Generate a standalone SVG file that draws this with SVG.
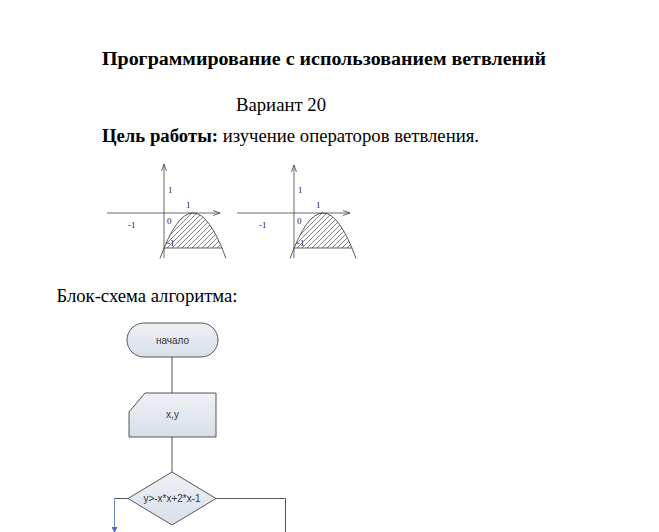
<svg xmlns="http://www.w3.org/2000/svg" width="659" height="532" viewBox="0 0 659 532">
<style>
.t{font-family:"Liberation Serif","Times New Roman",serif;font-size:18.7px;fill:#000}
.b{font-weight:bold}
.g{font-family:"Liberation Serif","Times New Roman",serif;font-size:9px;fill:#222}
.ax{stroke:#444;stroke-width:0.8;fill:none}
.cv{stroke:#333;stroke-width:0.8;fill:none}
.sh{fill:url(#fg);stroke:#555;stroke-width:1}
.ft{font-family:"Liberation Sans",Arial,sans-serif;font-size:10px;fill:#333;text-anchor:middle}
.cn{stroke:#555;stroke-width:1;fill:none}
</style>
<defs>
<linearGradient id="fg" x1="0" y1="0" x2="0" y2="1">
<stop offset="0" stop-color="#eef1f6"/>
<stop offset="1" stop-color="#d8dfe9"/>
</linearGradient>
<pattern id="hatch" patternUnits="userSpaceOnUse" width="5" height="5">
<path d="M-1,1 l2,-2 M0,5 l5,-5 M4,6 l2,-2" stroke="#333" stroke-width="0.6"/>
</pattern>
<marker id="arr" markerWidth="6" markerHeight="6" refX="5" refY="3" orient="auto" markerUnits="userSpaceOnUse">
<path d="M0,0 L6,3 L0,6 Z" fill="#4a74b8"/>
</marker>
</defs>

<text class="t b" x="102" y="65" textLength="444" lengthAdjust="spacingAndGlyphs">Программирование с использованием ветвлений</text>
<text class="t" x="236" y="111" textLength="90" lengthAdjust="spacingAndGlyphs">Вариант 20</text>
<text class="t" x="102" y="141.7" textLength="377" lengthAdjust="spacingAndGlyphs"><tspan class="b">Цель работы:</tspan> изучение операторов ветвления.</text>
<text class="t" x="56.5" y="301.5" textLength="181" lengthAdjust="spacingAndGlyphs">Блок-схема алгоритма:</text>

<g id="graph1">
<path d="M164,248 Q193,178 222,248 Z" fill="url(#hatch)" stroke="none"/>
<line class="cv" x1="164" y1="248" x2="222" y2="248"/>
<line class="ax" x1="107" y1="213" x2="220" y2="213"/>
<polyline class="ax" points="213,210.5 220,213 213,215.5"/>
<line class="ax" x1="164" y1="258" x2="164" y2="164"/>
<polyline class="ax" points="161.5,171 164,164 166.5,171"/>
<path class="cv" d="M160,258.5 Q193,167.5 226,258.5"/>
<text class="g" x="168" y="193">1</text>
<text class="g" x="186" y="208">1</text>
<text class="g" x="128" y="228">-1</text>
<text class="g" x="167" y="224">0</text>
<text class="g" x="167" y="246">-1</text>
</g>

<g id="graph2">
<path d="M294,248 Q323,178 352,248 Z" fill="url(#hatch)" stroke="none"/>
<line class="cv" x1="294" y1="248" x2="352" y2="248"/>
<line class="ax" x1="237" y1="213" x2="350" y2="213"/>
<polyline class="ax" points="343,210.5 350,213 343,215.5"/>
<line class="ax" x1="294" y1="258" x2="294" y2="165"/>
<polyline class="ax" points="291.5,172 294,165 296.5,172"/>
<path class="cv" d="M290,258.5 Q323,167.5 356,258.5"/>
<text class="g" x="298" y="193">1</text>
<text class="g" x="316" y="208">1</text>
<text class="g" x="259" y="228">-1</text>
<text class="g" x="297" y="224">0</text>
<text class="g" x="297" y="246">-1</text>
</g>

<g id="connectors">
<line class="cn" x1="172" y1="357" x2="172" y2="393"/>
<line class="cn" x1="172" y1="437" x2="172" y2="472"/>
<polyline class="cn" points="128,498.5 114.5,498.5"/>
<line x1="114.5" y1="498.5" x2="114.5" y2="532" stroke="#6a8cc0" stroke-width="1" marker-end="url(#arr)"/>
<polyline class="cn" points="216,498.5 285.5,498.5 285.5,532" stroke="#333"/>
</g>

<g id="start">
<rect class="sh" x="127" y="323" width="91" height="34" rx="17" ry="17"/>
<text class="ft" x="172.5" y="343.5">начало</text>
</g>

<g id="input">
<path class="sh" d="M145,393 L216,393 L216,437 L129,437 L129,412 Z"/>
<text class="ft" x="172.5" y="417.5">x,y</text>
</g>

<g id="cond">
<path class="sh" d="M172,472 L216,498.5 L172,525 L128,498.5 Z"/>
<text class="ft" x="172" y="502">y&gt;-x*x+2*x-1</text>
</g>
</svg>
